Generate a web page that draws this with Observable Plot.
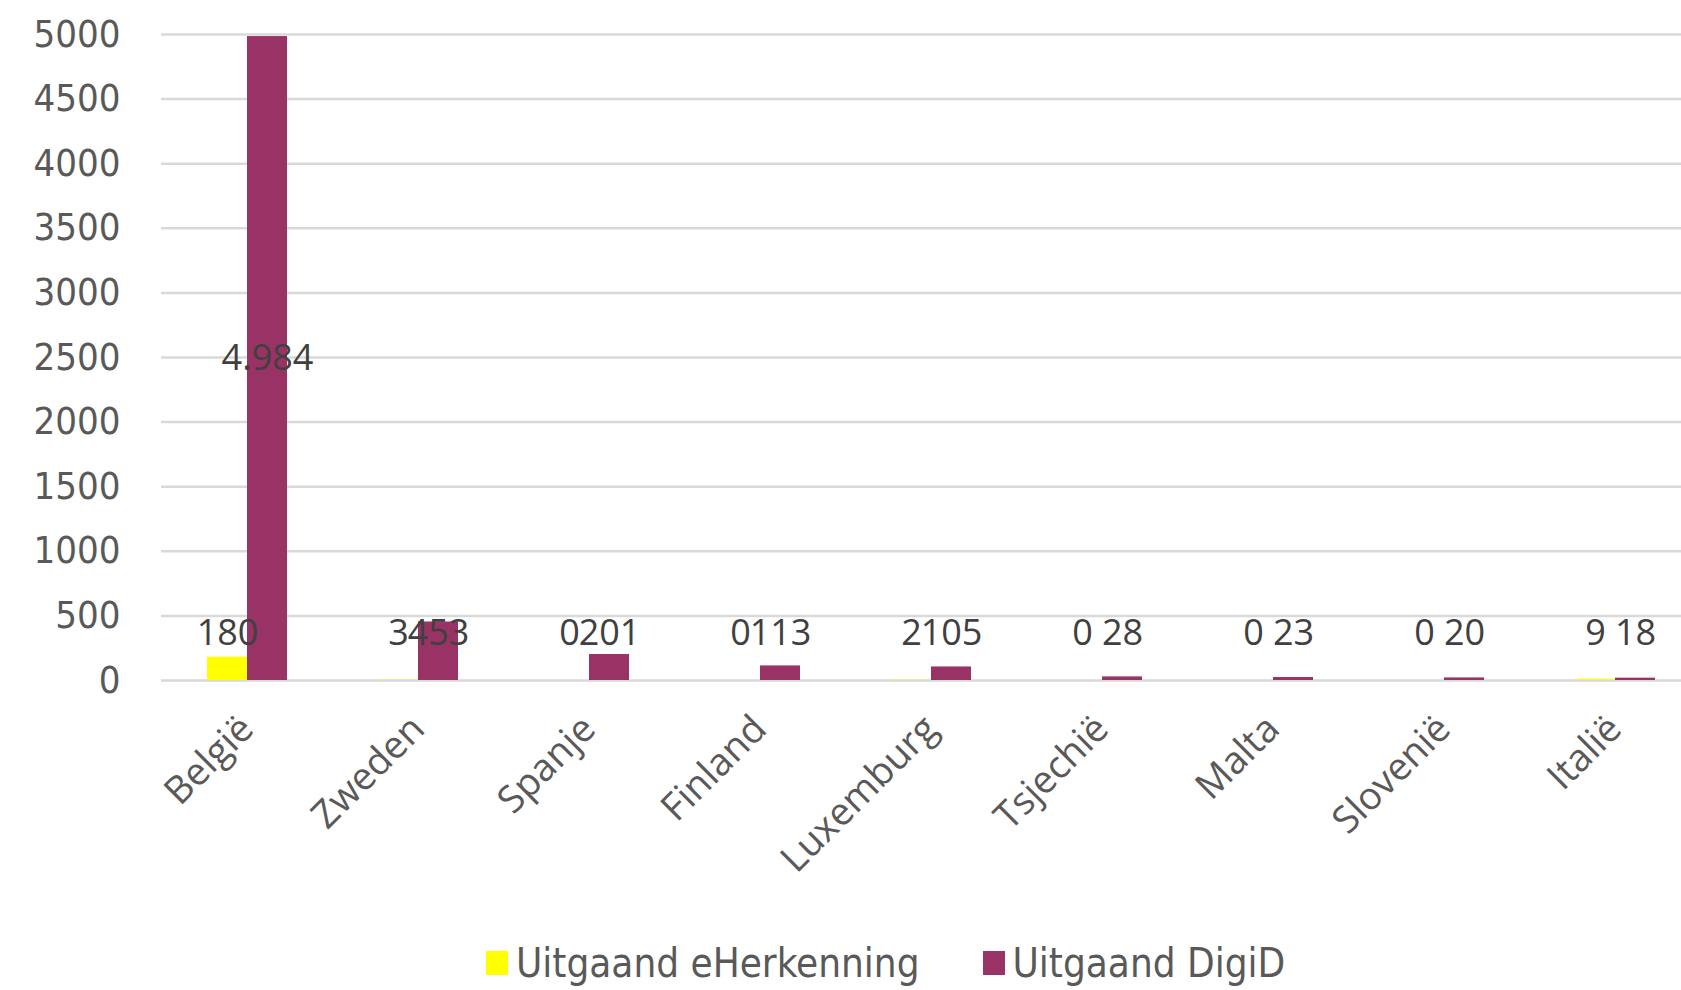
<!DOCTYPE html>
<html>
<head>
<meta charset="utf-8">
<script src="https://cdn.jsdelivr.net/npm/d3@7"></script>
<script src="https://cdn.jsdelivr.net/npm/@observablehq/plot@0.6"></script>
<style>
  html, body { margin: 0; padding: 0; background: #fff; overflow: hidden; }
  #chart { position: relative; width: 1681px; height: 930px; overflow: hidden; }
  #chart svg { max-width: none !important; width: 1702px !important; height: 930px !important; }
  svg g[aria-label="y-axis tick label"] { font-family: "Liberation Sans Narrow", "DejaVu Sans Condensed", sans-serif; font-size: 38px; fill: #595959; }
  svg g[aria-label="fx-axis tick label"] { font-family: "Open Sans", sans-serif; font-size: 38px; fill: #595959; }
  #legend { display: flex; justify-content: flex-start; align-items: center; gap: 63px; height: 66px; width: 1681px;
    padding-left: 486px; box-sizing: border-box;
    font-family: "Liberation Sans Narrow", "DejaVu Sans Condensed", sans-serif; font-size: 40px; color: #595959; }
  .item { display: flex; align-items: center; gap: 8px; }
  .sw { width: 22px; height: 24px; display: inline-block; }
</style>
</head>
<body>
<div id="chart"></div>
<script>
const countries = ["België","Zweden","Spanje","Finland","Luxemburg","Tsjechië","Malta","Slovenië","Italië"];
const eHerkenning = [180, 3, 0, 0, 2, 0, 0, 0, 9];
const digid = [4984, 453, 201, 113, 105, 28, 23, 20, 18];
const seriesNames = ["Uitgaand eHerkenning", "Uitgaand DigiD"];
const seriesColors = ["#FFFF00", "#993366"];
const yTicks = [0, 500, 1000, 1500, 2000, 2500, 3000, 3500, 4000, 4500, 5000];

const data = [];
countries.forEach((c, i) => {
  data.push({country: c, series: seriesNames[0], value: eHerkenning[i]});
  data.push({country: c, series: seriesNames[1], value: digid[i]});
});

const nl = d3.formatLocale({decimal: ",", thousands: ".", grouping: [3], currency: ["€", ""]});
const fmt = nl.format(",d");

const chart = Plot.plot({
  width: 1702,
  height: 930,
  marginLeft: 158,
  marginRight: 0,
  marginTop: 34,
  marginBottom: 250,
  style: {fontFamily: "Open Sans, sans-serif", background: "#fff"},
  fx: {domain: countries, padding: 0, label: null},
  x: {domain: seriesNames, paddingInner: 0, paddingOuter: 1.09, axis: null},
  y: {domain: [0, 5000], label: null},
  color: {domain: seriesNames, range: seriesColors},
  marks: [
    Plot.ruleY(yTicks, {stroke: "#d9d9d9", strokeWidth: 2.5}),
    Plot.axisY({ticks: yTicks, tickSize: 0, tickPadding: 41, tickFormat: d => String(d), label: null}),
    Plot.axisFx({anchor: "bottom", tickSize: 0, tickRotate: -45, tickPadding: 42, label: null}),
    Plot.barY(data, {fx: "country", x: "series", y: "value", fill: "series"}),
    Plot.text(data, {
      fx: "country", x: "series",
      y: d => Math.max(d.value / 2, 364),
      text: d => fmt(d.value),
      fill: "#404040", fontSize: 36, fontFamily: "Open Sans, sans-serif"
    })
  ]
});
document.getElementById("chart").appendChild(chart);

const legend = document.createElement("div");
legend.id = "legend";
seriesNames.forEach((s, i) => {
  const it = document.createElement("div");
  it.className = "item";
  const sw = document.createElement("span");
  sw.className = "sw";
  sw.style.background = seriesColors[i];
  const t = document.createElement("span");
  t.textContent = s;
  it.appendChild(sw); it.appendChild(t);
  legend.appendChild(it);
});
document.body.appendChild(legend);
</script>
</body>
</html>
